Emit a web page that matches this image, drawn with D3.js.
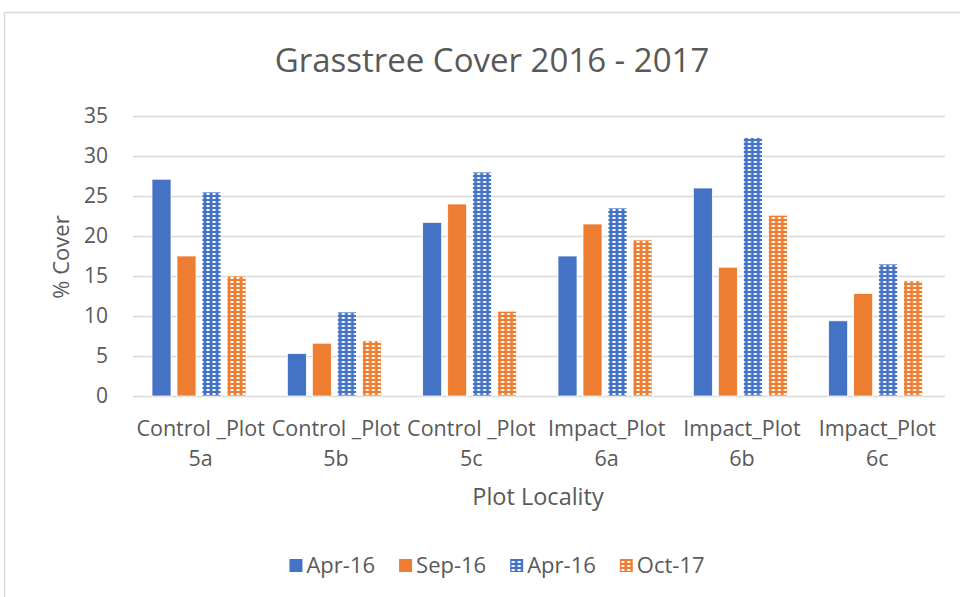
<!DOCTYPE html>
<html>
<head>
<meta charset="utf-8">
<script src="https://cdn.jsdelivr.net/npm/d3@7"></script>
<style>
  body { margin: 0; background: #fff; }
  svg { display: block; font-family: "Open Sans", sans-serif; }
</style>
</head>
<body>
<div id="chart"></div>
<script>
const categories = [
  ["Control _Plot", "5a"],
  ["Control _Plot", "5b"],
  ["Control _Plot", "5c"],
  ["Impact_Plot", "6a"],
  ["Impact_Plot", "6b"],
  ["Impact_Plot", "6c"],
];
const seriesNames = ["Apr-16", "Sep-16", "Apr-16", "Oct-17"];
const apr16 = [27.1, 5.3, 21.7, 17.5, 26.0, 9.4];
const sep16 = [17.5, 6.6, 24.0, 21.5, 16.1, 12.8];
const apr16b = [25.5, 10.5, 28.0, 23.5, 32.3, 16.5];
const oct17 = [15.0, 6.9, 10.6, 19.5, 22.6, 14.4];
const yTicks = [0, 5, 10, 15, 20, 25, 30, 35];

const series = [apr16, sep16, apr16b, oct17];
const blue = "#4472C4";
const orange = "#ED7D31";
const fills = [blue, orange, "url(#grid-blue)", "url(#grid-orange)"];

const width = 960;
const height = 597;
const margin = { top: 116, right: 15, bottom: 201, left: 133 };

const svg = d3
  .select("#chart")
  .append("svg")
  .attr("width", width)
  .attr("height", height);

// patterns for the hatched series
const defs = svg.append("defs");
[["grid-blue", blue], ["grid-orange", orange]].forEach(([id, c]) => {
  const p = defs
    .append("pattern")
    .attr("id", id)
    .attr("patternUnits", "userSpaceOnUse")
    .attr("width", 6)
    .attr("height", 4);
  p.append("rect").attr("width", 6).attr("height", 4).attr("fill", c);
  p.append("rect")
    .attr("x", 1.5)
    .attr("y", 1)
    .attr("width", 3)
    .attr("height", 2)
    .attr("fill", "#fff");
});

// chart frame
svg
  .append("rect")
  .attr("x", 4.5)
  .attr("y", 12.5)
  .attr("width", 1000)
  .attr("height", 1000)
  .attr("fill", "none")
  .attr("stroke", "#d9d9d9")
  .attr("stroke-width", 1.5);

const x0 = d3
  .scaleBand()
  .domain(d3.range(categories.length))
  .range([margin.left, width - margin.right]);

const x1 = d3
  .scaleBand()
  .domain(d3.range(series.length))
  .range([19, 113])
  .paddingInner(0.24);

const y = d3
  .scaleLinear()
  .domain([0, 35])
  .range([height - margin.bottom, margin.top]);

// gridlines
const grid = svg
  .append("g")
  .attr("transform", `translate(${margin.left}, 0)`)
  .call(
    d3.axisLeft(y).tickValues(yTicks).tickFormat("").tickSize(-(width - margin.left - margin.right))
  );
grid.select(".domain").remove();
grid.selectAll("line").attr("stroke", "#d9d9d9").attr("stroke-width", 1.5);

// y labels
const yAxis = svg
  .append("g")
  .attr("transform", `translate(108, 0)`)
  .call(d3.axisLeft(y).tickValues(yTicks).tickSize(0).tickPadding(0));
yAxis.select(".domain").remove();
yAxis
  .selectAll("text")
  .attr("fill", "#595959")
  .style("font-size", "21px")
  .style("font-family", "Open Sans, sans-serif");

// bars
const groups = svg
  .append("g")
  .selectAll("g")
  .data(categories)
  .join("g")
  .attr("transform", (d, i) => `translate(${x0(i)}, 0)`);

groups
  .selectAll("rect")
  .data((d, i) => series.map((s, j) => ({ j, v: s[i] })))
  .join("rect")
  .attr("x", (d) => x1(d.j))
  .attr("y", (d) => y(d.v))
  .attr("width", x1.bandwidth())
  .attr("height", (d) => y(0) - y(d.v))
  .attr("fill", (d) => fills[d.j])
  .attr("stroke", "#fff")
  .attr("stroke-width", 0.75);

// category labels
const xl = svg
  .append("g")
  .selectAll("text")
  .data(categories)
  .join("text")
  .attr("text-anchor", "middle")
  .attr("fill", "#595959")
  .style("font-size", "21.5px");
xl.append("tspan")
  .attr("x", (d, i) => x0(i) + x0.bandwidth() / 2)
  .attr("y", 436)
  .text((d) => d[0]);
xl.append("tspan")
  .attr("x", (d, i) => x0(i) + x0.bandwidth() / 2)
  .attr("y", 466)
  .text((d) => d[1]);

// title
svg
  .append("text")
  .attr("x", 492)
  .attr("y", 72)
  .attr("text-anchor", "middle")
  .attr("fill", "#595959")
  .style("font-size", "33px")
  .text("Grasstree Cover 2016 - 2017");

// axis titles
svg
  .append("text")
  .attr("x", 538)
  .attr("y", 505)
  .attr("text-anchor", "middle")
  .attr("fill", "#595959")
  .style("font-size", "23.5px")
  .text("Plot Locality");

svg
  .append("text")
  .attr("transform", "translate(69, 257) rotate(-90)")
  .attr("text-anchor", "middle")
  .attr("fill", "#595959")
  .style("font-size", "22px")
  .text("% Cover");

// legend
const legend = svg.append("g");
const items = legend
  .selectAll("g")
  .data(seriesNames)
  .join("g");
items
  .append("rect")
  .attr("y", 559)
  .attr("width", 13)
  .attr("height", 13)
  .attr("fill", (d, j) => fills[j]);
items
  .append("text")
  .attr("x", 17)
  .attr("y", 573)
  .attr("fill", "#595959")
  .style("font-size", "22px")
  .text((d) => d);

const gap = 24;
let pos = 0;
const offsets = [];
items.each(function () {
  offsets.push(pos);
  pos += this.getBBox().width + gap;
});
const start = 497 - (pos - gap) / 2;
items.attr("transform", (d, j) => `translate(${start + offsets[j]}, 0)`);
</script>
</body>
</html>
